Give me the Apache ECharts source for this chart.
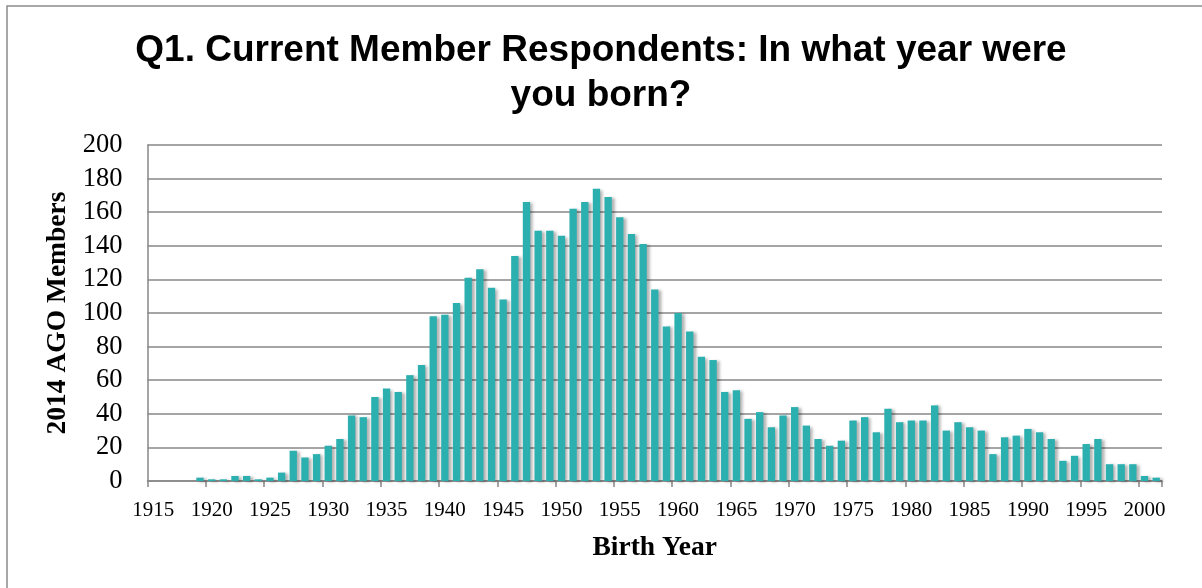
<!DOCTYPE html>
<html>
<head>
<meta charset="utf-8">
<script src="https://cdn.jsdelivr.net/npm/echarts@6/dist/echarts.min.js"></script>
<style>
  html, body { margin: 0; padding: 0; background: #fff; }
  #chart { width: 1202px; height: 588px; }
</style>
</head>
<body>
<div id="chart"></div>
<script>
// birth years 1915 .. 2001
const years = Array.from({ length: 87 }, (_, i) => String(1915 + i))

// respondents per birth year
const members = [
  0, 0, 0, 0, 2, 1, 1, 3, 3, 1,           // 1915-1924
  2, 5, 18, 14, 16, 21, 25, 39, 38, 50,   // 1925-1934
  55, 53, 63, 69, 98, 99, 106, 121, 126, 115, // 1935-1944
  108, 134, 166, 149, 149, 146, 162, 166, 174, 169, // 1945-1954
  157, 147, 141, 114, 92, 100, 89, 74, 72, 53, // 1955-1964
  54, 37, 41, 32, 39, 44, 33, 25, 21, 24, // 1965-1974
  36, 38, 29, 43, 35, 36, 36, 45, 30, 35, // 1975-1984
  32, 30, 16, 26, 27, 31, 29, 25, 12, 15, // 1985-1994
  22, 25, 10, 10, 10, 3, 2                // 1995-2001
]

const chart = echarts.init(document.getElementById('chart'))

const serif = 'Liberation Serif'
const axisGray = '#878787'

chart.setOption({
  animation: false,
  backgroundColor: '#fff',
  title: {
    text: 'Q1. Current Member Respondents: In what year were\nyou born?',
    left: 'center',
    top: 28,
    padding: [0, 0, 0, 20],
    textStyle: {
      fontFamily: 'Liberation Sans',
      fontWeight: 'bold',
      fontSize: 37,
      lineHeight: 45,
      color: '#000',
    },
  },
  graphic: [{
    type: 'rect',
    shape: { x: 7, y: 6, width: 1300, height: 700 },
    style: { fill: 'none', stroke: '#8c8c8c', lineWidth: 1.5 },
    silent: true,
  }],
  grid: { left: 147.5, right: 40, top: 145, bottom: 107 },
  xAxis: {
    type: 'category',
    data: years,
    boundaryGap: true,
    name: 'Birth Year',
    nameLocation: 'middle',
    nameGap: 53,
    nameTextStyle: { fontFamily: serif, fontWeight: 'bold', fontSize: 27.5, color: '#000' },
    axisLine: { lineStyle: { color: axisGray, width: 1.5 } },
    axisTick: { show: true, interval: 4, length: 6, lineStyle: { color: axisGray, width: 1.5 } },
    axisLabel: {
      interval: 4,
      margin: 19,
      fontFamily: serif,
      fontSize: 21,
      color: '#000',
    },
  },
  yAxis: {
    type: 'value',
    min: 0,
    max: 200,
    interval: 20,
    name: '2014 AGO Members',
    nameLocation: 'middle',
    nameGap: 76,
    nameTextStyle: { fontFamily: serif, fontWeight: 'bold', fontSize: 27.5, color: '#000' },
    axisLine: { show: true, lineStyle: { color: axisGray, width: 1.5 } },
    axisTick: { show: false },
    axisLabel: { margin: 25, fontFamily: serif, fontSize: 26.5, color: '#000' },
    splitLine: { lineStyle: { color: axisGray, width: 1.6 } },
  },
  series: [{
    type: 'bar',
    data: members,
    barCategoryGap: '37%',
    itemStyle: {
      color: '#2cafaf',
      shadowColor: 'rgba(0, 0, 0, 0.3)',
      shadowBlur: 3,
      shadowOffsetX: 3,
      shadowOffsetY: 1,
    },
  }],
})
</script>
</body>
</html>
